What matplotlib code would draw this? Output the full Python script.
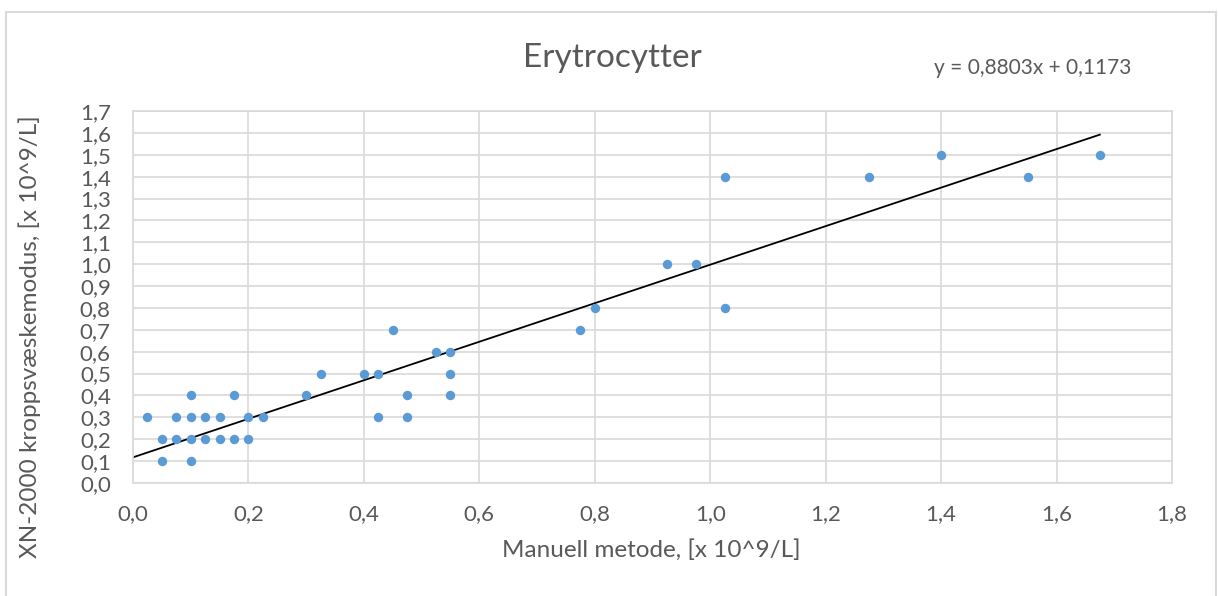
"""Erytrocytter: XN-2000 body fluid mode vs manual method."""

import matplotlib.pyplot as plt
from matplotlib.patches import Rectangle
from matplotlib.ticker import FuncFormatter
import numpy as np

# Manual method (x) and XN-2000 (y), x 10^9/L
manual = [0.025, 0.05, 0.05, 0.075, 0.075, 0.1, 0.1, 0.1, 0.1, 0.125,
          0.125, 0.15, 0.15, 0.175, 0.175, 0.2, 0.2, 0.225, 0.3, 0.325,
          0.4, 0.425, 0.425, 0.45, 0.475, 0.475, 0.525, 0.55, 0.55, 0.55,
          0.775, 0.8, 0.925, 0.975, 1.025, 1.025, 1.275, 1.4, 1.55, 1.675]
xn2000 = [0.3, 0.2, 0.1, 0.3, 0.2, 0.4, 0.3, 0.2, 0.1, 0.3,
          0.2, 0.3, 0.2, 0.4, 0.2, 0.3, 0.2, 0.3, 0.4, 0.5,
          0.5, 0.5, 0.3, 0.7, 0.4, 0.3, 0.6, 0.6, 0.5, 0.4,
          0.7, 0.8, 1.0, 1.0, 1.4, 0.8, 1.4, 1.5, 1.4, 1.5]

# trendline as reported on the chart
slope, intercept = 0.8803, 0.1173

TEXT = "#595959"
GRID = "#D9D9D9"
plt.rcParams["font.family"] = ["Lato", "DejaVu Sans"]

fig = plt.figure(figsize=(12.18, 5.96), dpi=100)
ax = fig.add_axes([0.1092, 0.1896, 0.853, 0.6242])

ax.scatter(manual, xn2000, s=46, color="#5B9BD5", zorder=3, linewidths=0)
xs = np.array([0, max(manual)])
ax.plot(xs, slope * xs + intercept, color="black", lw=1.3, zorder=2)

ax.set_xlim(0, 1.8)
ax.set_ylim(0, 1.7)
ax.set_xticks(np.arange(0, 1.81, 0.2))
ax.set_yticks(np.arange(0, 1.71, 0.1))
comma = FuncFormatter(lambda v, _: f"{v:.1f}".replace(".", ","))
ax.xaxis.set_major_formatter(comma)
ax.yaxis.set_major_formatter(comma)
ax.tick_params(length=0, labelsize=16, labelcolor=TEXT)
ax.tick_params(axis="x", pad=15)
ax.tick_params(axis="y", pad=16)
ax.grid(True, color=GRID, lw=1.2, zorder=0)
ax.set_axisbelow(True)
for s in ax.spines.values():
    s.set_color(GRID)
    s.set_linewidth(1.2)

fig.text(0.5025, 0.903, "Erytrocytter", ha="center", va="center",
         fontsize=24, color=TEXT)
fig.text(0.848, 0.886, "y = 0,8803x + 0,1173", ha="center", va="center",
         fontsize=15, color=TEXT)
fig.text(0.535, 0.077, "Manuell metode, [x 10^9/L]", ha="center", va="center",
         fontsize=17.5, color=TEXT)
fig.text(0.024, 0.435, "XN-2000 kroppsvæskemodus, [x 10^9/L]", ha="center",
         va="center", rotation=90, fontsize=17.5, color=TEXT)

# chart area border
fig.patches.append(Rectangle((6 / 1218, -0.01), 1210 / 1218, 1 - 12 / 596 + 0.01,
                             transform=fig.transFigure, fill=False,
                             edgecolor=GRID, lw=1.5))

fig.savefig("out.png", dpi=100)
